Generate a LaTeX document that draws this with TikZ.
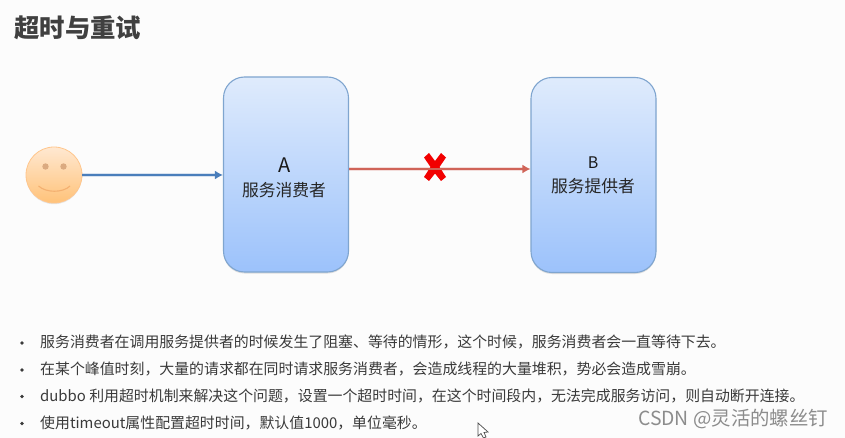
\documentclass[tikz,border=0pt]{standalone}
\usepackage{fontspec}
\setmainfont{Noto Sans CJK SC}
\usetikzlibrary{shadows,arrows.meta}
\definecolor{boxtop}{HTML}{DFEBFC}
\definecolor{boxbot}{HTML}{9CC2FB}
\definecolor{boxline}{HTML}{7FA5CF}
\definecolor{txt}{HTML}{3A3A3A}
\definecolor{flowblue}{HTML}{4A7EBB}
\definecolor{flowred}{HTML}{D06458}
\definecolor{eye}{HTML}{DBAA80}
\definecolor{smile}{HTML}{F4B070}
\tikzset{
  x=1pt,y=-1pt,
  svc/.style={draw=boxline,line width=1.1pt,rounded corners=21pt,minimum width=125pt,minimum height=195pt,
    top color=boxtop,bottom color=boxbot,inner sep=0pt,
    drop shadow={shadow xshift=0pt,shadow yshift=-1.5pt,fill=black!35,opacity=.35}},
  face/.style={circle,draw=orange!45,line width=.8pt,minimum size=56pt,inner sep=0pt,
    top color=orange!18!white,bottom color=orange!50!white!95!yellow,
    drop shadow={shadow xshift=0pt,shadow yshift=-1.2pt,fill=black!30,opacity=.3}},
  flow/.style={line width=2.2pt,-{Latex[length=8pt,width=9pt]}},
  halo/.style={line width=4pt,opacity=.2,shorten >=5pt},
  bullet/.style={anchor=west,inner sep=0pt,font=\fontsize{14.9pt}{15pt}\selectfont,text=txt},
  dot/.style={circle,fill=txt,minimum size=3.6pt,inner sep=0pt},
}
\begin{document}
\begin{tikzpicture}
\useasboundingbox[fill=black!1] (0,0) rectangle (845,438);
\node[anchor=west,inner sep=0pt,font=\fontsize{25.4pt}{25pt}\selectfont\bfseries,text=black!75] (title) at (14,28) {超时与重试};
% boxes
\node[svc] (a) at (286,174.5) {};
\node[svc] (b) at (593.5,175) {};
\node[font=\fontsize{20pt}{20pt}\selectfont,inner sep=0pt,text=black!90] (alabel) at (285,165) {A};
\node[font=\fontsize{16.8pt}{17pt}\selectfont,inner sep=0pt,text=black!85] (aname) at (284,190) {服务消费者};
\node[font=\fontsize{16pt}{17pt}\selectfont,inner sep=0pt,text=black!90] (blabel) at (593,163) {B};
\node[font=\fontsize{16.8pt}{17pt}\selectfont,inner sep=0pt,text=black!85] (bname) at (593,186) {服务提供者};
% face
\node[face] (user) at (54,175) {};
\fill[eye] (45.5,166.5) circle (3.2);
\fill[eye] (63.5,166.5) circle (3.2);
\draw[smile,line width=1.1pt] (38.5,186) .. controls (46,193) and (63,193) .. (70,186);
% connectors
\coordinate (fail) at (435,169);
\draw[flowblue,halo] (user.east) -- (user.east -| a.west);
\draw[flow,flowblue] (user.east) -- (user.east -| a.west);
\draw[flowred,halo] (a.east |- fail) -- (b.west |- fail);
% cross
\fill[red!95!black,shift={(435,167)}] (-11,-9.5) -- (-6,-14) -- (0,-6) -- (6,-14) -- (11,-9.5) -- (4.5,0) -- (11,10) -- (6,14) -- (0,6.5) -- (-6,14) -- (-11,10) -- (-4.5,0) -- cycle;
\draw[flow,flowred] (a.east |- fail) -- (b.west |- fail);
% bullets
\node[dot] (d1) at (22,343) {};
\node[dot] (d2) at (22,370) {};
\node[dot] (d3) at (22,396.5) {};
\node[dot] (d4) at (22,423.5) {};
\node[bullet] (t1) at (40,342) {服务消费者在调用服务提供者的时候发生了阻塞、等待的情形，这个时候，服务消费者会一直等待下去。};
\node[bullet] (t2) at (40,369) {在某个峰值时刻，大量的请求都在同时请求服务消费者，会造成线程的大量堆积，势必会造成雪崩。};
\node[bullet] (t3) at (40,396) {dubbo 利用超时机制来解决这个问题，设置一个超时时间，在这个时间段内，无法完成服务访问，则自动断开连接。};
\node[bullet] (t4) at (40,423) {使用timeout属性配置超时时间，默认值1000，单位毫秒。};
% watermark
\node[anchor=west,inner sep=0pt,font=\fontsize{19.4pt}{19pt}\selectfont,text=black!45] (wm) at (638,419) {CSDN @灵活的螺丝钉};
% cursor
\draw[black!70,fill=white,line width=.7pt] (478,423) -- (478,436) -- (481,433.5) -- (483.5,438) -- (486,437) -- (484,432.5) -- (488,432) -- cycle;
\end{tikzpicture}
\end{document}
